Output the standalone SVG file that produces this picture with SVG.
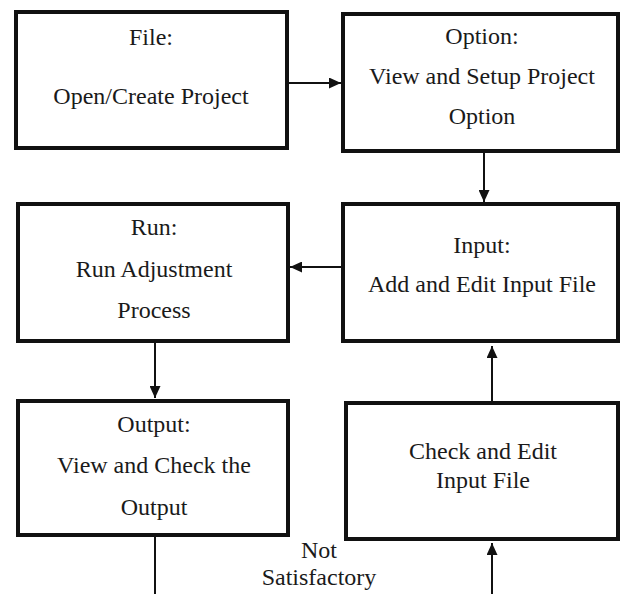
<svg xmlns="http://www.w3.org/2000/svg" width="621" height="594" viewBox="0 0 621 594">
  <style>
    .box { fill: #ffffff; stroke: #111111; stroke-width: 4; }
    .lbl { font-family: 'Liberation Serif', 'Times New Roman', serif; font-size: 24px; fill: #1a1a1a; text-anchor: middle; }
    .conn { stroke: #111111; stroke-width: 2; fill: none; }
  </style>
  <defs>
    <marker id="arrow" markerUnits="userSpaceOnUse" markerWidth="13" markerHeight="11" refX="12" refY="5.5" orient="auto">
      <path d="M0,0 L12,5.5 L0,11 Z" fill="#111111"/>
    </marker>
  </defs>
  <rect width="621" height="594" fill="#ffffff"/>

  <!-- connectors -->
  <g id="connectors">
    <line class="conn" x1="288" y1="83" x2="341" y2="83" marker-end="url(#arrow)"/>
    <line class="conn" x1="484" y1="151" x2="484" y2="202" marker-end="url(#arrow)"/>
    <line class="conn" x1="343" y1="267" x2="290" y2="267" marker-end="url(#arrow)"/>
    <line class="conn" x1="155" y1="341" x2="155" y2="398" marker-end="url(#arrow)"/>
    <line class="conn" x1="155" y1="535" x2="155" y2="594"/>
    <line class="conn" x1="492" y1="403" x2="492" y2="346" marker-end="url(#arrow)"/>
    <line class="conn" x1="492" y1="594" x2="492" y2="543" marker-end="url(#arrow)"/>
    <text class="lbl" x="319" y="558">Not</text>
    <text class="lbl" x="319" y="585">Satisfactory</text>
  </g>

  <g id="file">
    <rect class="box" x="16" y="12" width="271" height="136"/>
    <text class="lbl" x="151" y="45">File:</text>
    <text class="lbl" x="151" y="104">Open/Create Project</text>
  </g>

  <g id="option">
    <rect class="box" x="343" y="14" width="275" height="137"/>
    <text class="lbl" x="482" y="44">Option:</text>
    <text class="lbl" x="482" y="84">View and Setup Project</text>
    <text class="lbl" x="482" y="124">Option</text>
  </g>

  <g id="run">
    <rect class="box" x="18" y="204" width="270" height="137"/>
    <text class="lbl" x="154" y="235">Run:</text>
    <text class="lbl" x="154" y="277">Run Adjustment</text>
    <text class="lbl" x="154" y="318">Process</text>
  </g>

  <g id="input">
    <rect class="box" x="343" y="204" width="275" height="137"/>
    <text class="lbl" x="482" y="253">Input:</text>
    <text class="lbl" x="482" y="292">Add and Edit Input File</text>
  </g>

  <g id="output">
    <rect class="box" x="18" y="401" width="270" height="134"/>
    <text class="lbl" x="154" y="432">Output:</text>
    <text class="lbl" x="154" y="473">View and Check the</text>
    <text class="lbl" x="154" y="515">Output</text>
  </g>

  <g id="check">
    <rect class="box" x="346" y="403" width="272" height="136"/>
    <text class="lbl" x="483" y="459">Check and Edit</text>
    <text class="lbl" x="483" y="488">Input File</text>
  </g>
</svg>
